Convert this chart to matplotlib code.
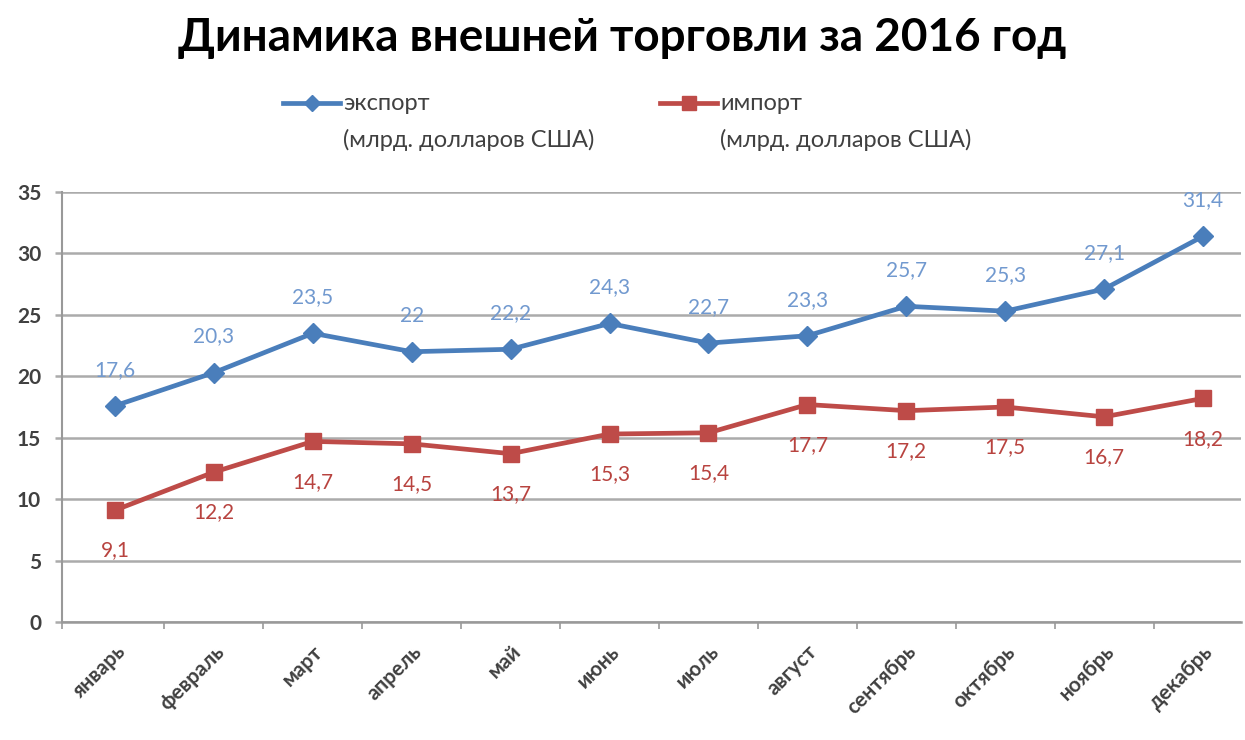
import matplotlib
matplotlib.use("Agg")
import matplotlib.pyplot as plt
from matplotlib.lines import Line2D

plt.rcParams['font.family'] = ['Lato', 'Open Sans', 'DejaVu Sans']

months = ["январь", "февраль", "март", "апрель", "май", "июнь",
          "июль", "август", "сентябрь", "октябрь", "ноябрь", "декабрь"]
export = [17.6, 20.3, 23.5, 22.0, 22.2, 24.3, 22.7, 23.3, 25.7, 25.3, 27.1, 31.4]
imports = [9.1, 12.2, 14.7, 14.5, 13.7, 15.3, 15.4, 17.7, 17.2, 17.5, 16.7, 18.2]
y_ticks = [0, 5, 10, 15, 20, 25, 30, 35]
series_names = ["экспорт", "импорт"]
unit_label = "(млрд. долларов США)"

c_exp = '#4A7EBB'
c_exp_lbl = '#7199CF'
c_imp = '#BE4B48'
c_imp_lbl = '#B8433F'
c_text = '#404040'
W, H = 1245.0, 740.0


def fmt(v):
    s = ("%.1f" % v).replace('.', ',')
    if s.endswith(',0'):
        s = s[:-2]
    return s


fig = plt.figure(figsize=(12.45, 7.4), dpi=100)
ax = fig.add_axes([62 / W, 1 - 622 / H, 0.947, (622 - 192) / H])

x = list(range(len(months)))
ax.plot(x, export, color=c_exp, lw=3.4, marker='D', ms=10, zorder=3)
ax.plot(x, imports, color=c_imp, lw=3.4, marker='s', ms=12, zorder=3)

for i in x:
    ax.annotate(fmt(export[i]), (i, export[i]), xytext=(0, 26), textcoords='offset points',
                ha='center', va='center', color=c_exp_lbl, fontsize=15)
    ax.annotate(fmt(imports[i]), (i, imports[i]), xytext=(0, -29), textcoords='offset points',
                ha='center', va='center', color=c_imp_lbl, fontsize=15)

x_left = -0.536
ax.set_xlim(x_left, 11.384)
ax.set_ylim(0, 35)
ax.set_yticks(y_ticks)
ax.set_yticklabels([str(v) for v in y_ticks], fontsize=15, fontweight='bold', color=c_text)
ax.grid(axis='y', color='#ABABAB', lw=1.8)
ax.set_axisbelow(True)

ax.set_xticks(x)
ax.set_xticklabels(months, rotation=45, ha='right', rotation_mode='anchor', fontsize=15,
                   fontweight='bold', color=c_text)
ax.tick_params(axis='x', length=0, pad=14)
ax.set_xticks([x_left] + [i + 0.5 for i in range(0, 11)], minor=True)
ax.tick_params(axis='x', which='minor', length=5, width=1.2, color='#999999')
ax.tick_params(axis='y', length=5, width=1.8, color='#ABABAB', pad=10)

for side in ['top', 'right']:
    ax.spines[side].set_visible(False)
ax.spines['left'].set_color('#999999')
ax.spines['left'].set_linewidth(1.5)
ax.spines['bottom'].set_color('#999999')
ax.spines['bottom'].set_linewidth(1.8)

fig.text(0.5, 1 - 38 / H, "Динамика внешней торговли за 2016 год", ha='center', va='center',
         fontsize=33, fontweight='bold')

# legend drawn by hand: handle aligned with the first text line
legend_items = [(283, series_names[0], c_exp, 'D', 8),
                (660, series_names[1], c_imp, 's', 10)]
for x0, name, col, mk, ms in legend_items:
    yl = 1 - 103 / H
    fig.add_artist(Line2D([x0 / W, (x0 + 57) / W], [yl, yl], color=col, lw=3.4,
                          transform=fig.transFigure))
    fig.add_artist(Line2D([(x0 + 28.5) / W], [yl], color=col, marker=mk, ms=ms,
                          transform=fig.transFigure))
    fig.text((x0 + 60) / W, yl, name, ha='left', va='center', fontsize=17, color=c_text)
    fig.text((x0 + 60) / W, 1 - 140 / H, unit_label, ha='left', va='center', fontsize=17,
             color=c_text)

fig.savefig("out.png", dpi=100)
